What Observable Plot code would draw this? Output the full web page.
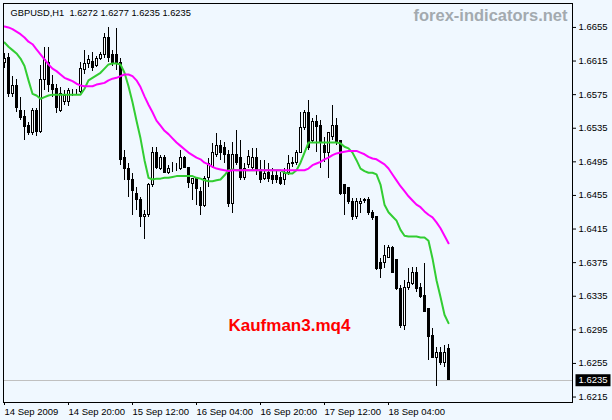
<!DOCTYPE html>
<html><head><meta charset="utf-8">
<script src="https://cdn.jsdelivr.net/npm/d3@7"></script>
<script src="https://cdn.jsdelivr.net/npm/@observablehq/plot@0.6"></script>
<style>
html,body{margin:0;padding:0;background:#f0f8ff;}
#chart svg{display:block;}
</style></head><body><div id="chart"></div>
<script>
const titleText = "GBPUSD,H1\u00a0\u00a01.6272 1.6277 1.6235 1.6235";
const watermark = "forex-indicators.net";
const indicatorName = "Kaufman3.mq4";

const open = [
1.6613,1.6619,1.6576,1.6585,1.6556,1.6548,1.6538,1.6529,1.6555,1.6531,
1.6592,1.6613,1.6587,1.6582,1.6556,1.6566,1.6566,1.6578,1.6578,1.6578,
1.6604,1.6611,1.6614,1.6609,1.6618,1.6622,1.6643,1.6622,1.6622,1.6613,
1.6499,1.6487,1.6473,1.6457,1.6450,1.6429,1.6432,1.6468,1.6505,1.6487,
1.6500,1.6482,1.6487,1.6487,1.6487,1.6500,1.6488,1.6469,1.6474,1.6459,
1.6443,1.6476,1.6489,1.6503,1.6514,1.6512,1.6503,1.6445,1.6503,1.6500,
1.6476,1.6491,1.6488,1.6499,1.6485,1.6475,1.6482,1.6478,1.6478,1.6476,
1.6473,1.6482,1.6492,1.6494,1.6506,1.6535,1.6553,1.6520,1.6542,1.6538,
1.6514,1.6506,1.6524,1.6538,1.6520,1.6467,1.6464,1.6447,1.6429,1.6445,
1.6449,1.6449,1.6434,1.6429,1.6375,1.6374,1.6381,1.6392,1.6378,1.6344,
1.6300,1.6345,1.6350,1.6363,1.6345,1.6335,1.6320,1.6288,1.6261,1.6267,
1.6256,1.6272];
const high = [
1.6624,1.6624,1.6597,1.6593,1.6572,1.6556,1.6542,1.6559,1.6559,1.6610,
1.6631,1.6631,1.6598,1.6587,1.6584,1.6580,1.6582,1.6581,1.6581,1.6613,
1.6628,1.6622,1.6625,1.6620,1.6625,1.6648,1.6655,1.6628,1.6654,1.6618,
1.6508,1.6493,1.6481,1.6464,1.6453,1.6437,1.6469,1.6512,1.6512,1.6503,
1.6503,1.6491,1.6494,1.6493,1.6508,1.6501,1.6488,1.6475,1.6475,1.6464,
1.6478,1.6499,1.6517,1.6529,1.6520,1.6518,1.6508,1.6518,1.6532,1.6520,
1.6493,1.6508,1.6511,1.6511,1.6497,1.6497,1.6493,1.6487,1.6485,1.6482,
1.6487,1.6503,1.6500,1.6508,1.6554,1.6556,1.6568,1.6547,1.6550,1.6544,
1.6524,1.6530,1.6562,1.6547,1.6520,1.6467,1.6464,1.6451,1.6451,1.6451,
1.6451,1.6453,1.6437,1.6429,1.6380,1.6395,1.6395,1.6394,1.6378,1.6348,
1.6354,1.6368,1.6369,1.6369,1.6350,1.6374,1.6320,1.6297,1.6274,1.6274,
1.6276,1.6277];
const low = [
1.6606,1.6572,1.6572,1.6554,1.6544,1.6520,1.6526,1.6526,1.6525,1.6529,
1.6580,1.6578,1.6572,1.6553,1.6554,1.6562,1.6561,1.6573,1.6575,1.6576,
1.6599,1.6606,1.6603,1.6607,1.6616,1.6618,1.6613,1.6609,1.6604,1.6491,
1.6473,1.6453,1.6431,1.6437,1.6417,1.6403,1.6429,1.6464,1.6486,1.6485,
1.6481,1.6480,1.6482,1.6484,1.6485,1.6487,1.6463,1.6449,1.6443,1.6431,
1.6441,1.6464,1.6487,1.6500,1.6497,1.6493,1.6441,1.6434,1.6491,1.6473,
1.6473,1.6487,1.6485,1.6479,1.6469,1.6473,1.6470,1.6468,1.6469,1.6467,
1.6467,1.6479,1.6488,1.6491,1.6505,1.6532,1.6508,1.6518,1.6506,1.6487,
1.6494,1.6475,1.6520,1.6514,1.6455,1.6431,1.6444,1.6425,1.6426,1.6434,
1.6445,1.6431,1.6425,1.6366,1.6356,1.6368,1.6380,1.6362,1.6342,1.6297,
1.6294,1.6342,1.6348,1.6339,1.6332,1.6316,1.6259,1.6261,1.6228,1.6253,
1.6250,1.6235];
const close = [
1.6618,1.6576,1.6585,1.6559,1.6547,1.6536,1.6529,1.6555,1.6530,1.6592,
1.6616,1.6586,1.6580,1.6559,1.6576,1.6573,1.6579,1.6578,1.6578,1.6606,
1.6612,1.6616,1.6607,1.6618,1.6622,1.6643,1.6619,1.6612,1.6613,1.6497,
1.6487,1.6473,1.6460,1.6449,1.6429,1.6432,1.6468,1.6505,1.6488,1.6500,
1.6482,1.6487,1.6487,1.6487,1.6500,1.6488,1.6470,1.6474,1.6463,1.6443,
1.6475,1.6493,1.6505,1.6514,1.6506,1.6503,1.6445,1.6503,1.6494,1.6476,
1.6487,1.6501,1.6500,1.6485,1.6473,1.6481,1.6475,1.6473,1.6473,1.6469,
1.6481,1.6493,1.6494,1.6506,1.6535,1.6553,1.6511,1.6542,1.6536,1.6518,
1.6506,1.6529,1.6538,1.6518,1.6457,1.6457,1.6447,1.6429,1.6447,1.6447,
1.6448,1.6434,1.6428,1.6368,1.6368,1.6383,1.6393,1.6363,1.6344,1.6300,
1.6345,1.6351,1.6363,1.6344,1.6334,1.6316,1.6286,1.6262,1.6267,1.6256,
1.6268,1.6235];
// Kaufman adaptive moving averages (fast = green, slow = magenta)
const amaFast = [
1.6637,1.6632,1.6628,1.6624,1.6618,1.6609,1.6592,1.6576,1.6574,1.6570,
1.6572,1.6574,1.6575,1.6575,1.6575,1.6575,1.6575,1.6575,1.6575,1.6575,
1.6582,1.6592,1.6595,1.6598,1.6601,1.6606,1.6611,1.6612,1.6612,1.6611,
1.6601,1.6585,1.6566,1.6544,1.6523,1.6497,1.6476,1.6474,1.6475,1.6475,
1.6476,1.6476,1.6477,1.6478,1.6478,1.6478,1.6478,1.6478,1.6476,1.6475,
1.6473,1.6472,1.6472,1.6473,1.6474,1.6479,1.6485,1.6486,1.6485,1.6485,
1.6485,1.6485,1.6485,1.6485,1.6485,1.6485,1.6485,1.6485,1.6485,1.6485,
1.6482,1.6481,1.6481,1.6485,1.6494,1.6506,1.6518,1.6518,1.6518,1.6518,
1.6518,1.6518,1.6518,1.6518,1.6517,1.6513,1.6511,1.6506,1.6497,1.6487,
1.6484,1.6482,1.6482,1.6480,1.6468,1.6444,1.6435,1.6430,1.6425,1.6414,
1.6407,1.6406,1.6406,1.6406,1.6405,1.6405,1.6401,1.6380,1.6354,1.6334,
1.6313,1.6303];
const amaSlow = [
1.6656,1.6655,1.6653,1.6650,1.6647,1.6643,1.6638,1.6635,1.6629,1.6623,
1.6617,1.6611,1.6606,1.6603,1.6599,1.6595,1.6593,1.6591,1.6588,1.6586,
1.6585,1.6585,1.6585,1.6587,1.6588,1.6589,1.6592,1.6594,1.6595,1.6597,
1.6599,1.6599,1.6597,1.6592,1.6584,1.6573,1.6563,1.6554,1.6544,1.6538,
1.6532,1.6528,1.6523,1.6518,1.6514,1.6510,1.6506,1.6503,1.6500,1.6498,
1.6494,1.6492,1.6489,1.6487,1.6486,1.6485,1.6484,1.6485,1.6485,1.6485,
1.6485,1.6485,1.6485,1.6485,1.6485,1.6485,1.6485,1.6485,1.6485,1.6485,
1.6485,1.6485,1.6485,1.6485,1.6485,1.6485,1.6487,1.6491,1.6493,1.6495,
1.6498,1.6500,1.6503,1.6505,1.6506,1.6507,1.6508,1.6508,1.6508,1.6506,
1.6504,1.6501,1.6499,1.6498,1.6495,1.6492,1.6487,1.6480,1.6473,1.6466,
1.6460,1.6454,1.6449,1.6444,1.6441,1.6436,1.6432,1.6429,1.6423,1.6416,
1.6407,1.6398];
const priceTicks = [1.6215,1.6255,1.6295,1.6335,1.6375,1.6415,1.6455,1.6495,1.6535,1.6575,1.6615,1.6655];
const timeTickBars = [0,16,32,48,64,80,96];
const timeTickLabels = ["14 Sep 2009","14 Sep 20:00","15 Sep 12:00","16 Sep 04:00","16 Sep 20:00","17 Sep 12:00","18 Sep 04:00"];

const bars = open.map((o, i) => ({i, open: o, high: high[i], low: low[i], close: close[i], up: close[i] > o}));
const fast = amaFast.map((v, i) => ({i, v}));
const slow = amaSlow.map((v, i) => ({i, v}));
const lastClose = close[close.length - 1];

const font = "'Liberation Sans', Arial, sans-serif";
const plot = Plot.plot({
  width: 612, height: 420,
  marginLeft: 3, marginRight: 40, marginTop: 3, marginBottom: 18,
  style: {background: "#f0f8ff", fontFamily: font, fontSize: "9.5px", color: "#000", overflow: "visible"},
  x: {type: "linear", domain: [-0.25, 142]},
  y: {type: "linear", domain: [1.62085, 1.66835]},
  marks: [
    Plot.ruleY([lastClose], {stroke: "#c0c0c0", shapeRendering: "crispEdges"}),
    Plot.ruleX(bars, {x: "i", y1: "low", y2: "high", stroke: "#000", shapeRendering: "crispEdges"}),
    Plot.rect(bars, {x1: d => d.i - 0.25, x2: d => d.i + 0.25, y1: "open", y2: "close", fill: d => d.up ? "#fff" : "#000", stroke: "#000", shapeRendering: "crispEdges"}),
    Plot.line(fast, {x: "i", y: "v", stroke: "#32cd32", strokeWidth: 2}),
    Plot.line(slow, {x: "i", y: "v", stroke: "#ff00ff", strokeWidth: 2}),
    Plot.frame({stroke: "#000", shapeRendering: "crispEdges"}),
    Plot.axisY({anchor: "right", ticks: priceTicks, tickSize: 3, tickPadding: 3, tickFormat: d => d.toFixed(4), label: null}),
    Plot.axisX({anchor: "bottom", ticks: timeTickBars, tickSize: 3, tickPadding: 3, textAnchor: "start", dx: 0, tickFormat: d => timeTickLabels[timeTickBars.indexOf(d)], label: null}),
    Plot.text([lastClose], {y: d => d, frameAnchor: "right", dx: 6, textAnchor: "start", text: d => d.toFixed(4), fill: "#fffffe", fontSize: 9.5}),
    Plot.text([titleText], {frameAnchor: "top-left", dx: 7, dy: 6, textAnchor: "start", lineAnchor: "top", text: d => d, fill: "#000", fontSize: 9.3}),
    Plot.text([watermark], {frameAnchor: "top-right", dx: -5, dy: 6, textAnchor: "end", lineAnchor: "top", text: d => d, fill: "#a3aaaf", fontSize: 16.5, fontWeight: "bold"}),
    Plot.text([indicatorName], {frameAnchor: "top-left", dx: 225, dy: 315, textAnchor: "start", lineAnchor: "top", text: d => d, fill: "#ff0000", fontSize: 17, fontWeight: "bold"})
  ]
});
document.getElementById("chart").appendChild(plot);

// black box behind the current-price label
d3.select(plot).selectAll("g").filter(function(){ return this.getAttribute("fill") === "#fffffe"; }).each(function(){
  const t = this.querySelector("text");
  const b = t.getBBox();
  const r = document.createElementNS("http://www.w3.org/2000/svg", "rect");
  if (t.getAttribute("transform")) r.setAttribute("transform", t.getAttribute("transform"));
  const tx = t.getAttribute("x"), ty = t.getAttribute("y");
  r.setAttribute("x", Math.round(b.x) - 3);
  r.setAttribute("y", Math.round(b.y + b.height / 2) - 6);
  r.setAttribute("width", Math.round(b.width) + 6);
  r.setAttribute("height", 12);
  r.setAttribute("fill", "#000");
  this.insertBefore(r, t);
});
</script></body></html>
